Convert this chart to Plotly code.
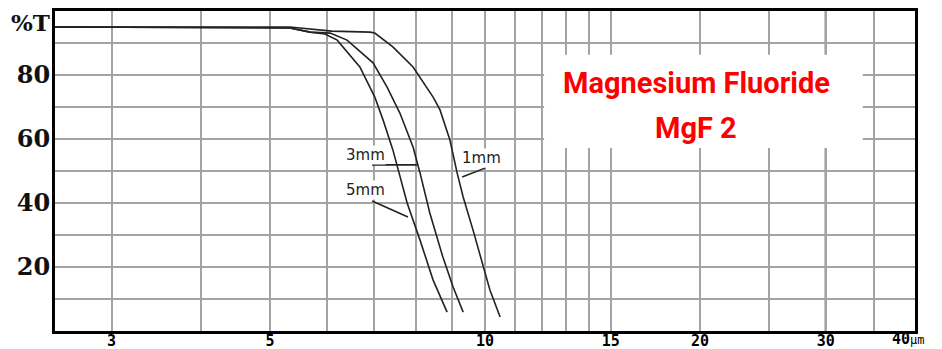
import math
import plotly.graph_objects as go

# ---- data ----
wl_1mm = [2.5, 5.33, 6.1, 6.9, 7.01, 7.43, 7.93, 8.46, 8.65, 8.93, 9.14, 9.32, 9.62, 9.94, 10.16, 10.5]
t_1mm = [95, 95, 93.7, 93.4, 93.1, 88.8, 82.5, 73.1, 69.1, 59.7, 49.4, 41.9, 31.6, 20.0, 12.8, 4.4]

wl_3mm = [2.5, 5.33, 5.69, 6.07, 6.41, 6.97, 7.29, 7.60, 7.93, 8.11, 8.37, 8.73, 9.02, 9.32]
t_3mm = [95, 94.7, 93.4, 93.1, 90.9, 83.8, 76.3, 68.1, 57.5, 49.4, 36.9, 23.1, 13.8, 5.9]

wl_5mm = [2.5, 5.33, 5.69, 5.97, 6.21, 6.68, 7.01, 7.20, 7.43, 7.78, 8.11, 8.46, 8.85]
t_5mm = [95, 94.7, 93.4, 92.8, 90.9, 82.5, 73.1, 65.9, 56.6, 40.0, 28.4, 15.9, 5.9]

grid_x = [3, 4, 6, 7, 8, 9, 11, 12, 13, 14, 15, 25, 35]
major_x = [5, 10, 20, 30]
x_tick_vals = [3, 5, 10, 15, 20, 30]
x_tick_text = ["3", "5", "10", "15", "20", "30"]
y_tick_vals = [20, 40, 60, 80]
y_grid = [10, 20, 30, 40, 50, 60, 70, 80, 90]

title_lines = ["Magnesium Fluoride", "MgF 2"]

# ---- figure ----
fig = go.Figure()
line_style = dict(color="#222222", width=1.6)
for wl, t, name in [(wl_1mm, t_1mm, "1mm"), (wl_3mm, t_3mm, "3mm"), (wl_5mm, t_5mm, "5mm")]:
    fig.add_trace(go.Scatter(x=wl, y=t, mode="lines", line=line_style, name=name,
                             showlegend=False, hoverinfo="skip"))

all_x = sorted(grid_x + major_x)
tickvals = all_x
ticktext = [x_tick_text[x_tick_vals.index(v)] if v in x_tick_vals else "" for v in all_x]

fig.update_xaxes(type="log", range=[math.log10(2.5), math.log10(40)],
                 tickvals=tickvals, ticktext=ticktext, ticks="", automargin=False,
                 showgrid=True, gridcolor="#a3a3a3", gridwidth=2,
                 showline=True, linecolor="black", linewidth=3, mirror=True,
                 tickfont=dict(family="DejaVu Sans Mono", size=15, color="black", weight="bold"),
                 zeroline=False, ticklabelstandoff=-6)
fig.update_yaxes(range=[0, 100], tickvals=y_grid,
                 ticktext=[str(v) if v in y_tick_vals else "" for v in y_grid],
                 ticks="", showgrid=True, gridcolor="#a3a3a3", gridwidth=2, automargin=False,
                 showline=True, linecolor="black", linewidth=3, mirror=True,
                 tickfont=dict(family="DejaVu Serif", size=24, color="#111111", weight="bold"),
                 zeroline=False, ticklabelstandoff=-3)

# dark major vertical gridlines
for v in major_x:
    fig.add_shape(type="line", xref="x", yref="paper", x0=v, x1=v, y0=0, y1=1,
                  line=dict(color="#111111", width=2), layer="between")

# white box behind the title
fig.add_shape(type="rect", xref="x", yref="y", x0=12.1, x1=33.8, y0=57.2, y1=86.3,
              fillcolor="white", line=dict(width=0), layer="between")

title_font = dict(family="Roboto", size=29, color="#ff0000", weight="bold")
fig.add_annotation(x=math.log10(19.75), y=77.5, xref="x", yref="y", text=title_lines[0],
                   showarrow=False, font=title_font)
fig.add_annotation(x=math.log10(19.75), y=63.5, xref="x", yref="y", text=title_lines[1],
                   showarrow=False, font=title_font)

# curve labels with leader lines
lab_font = dict(family="DejaVu Sans", size=15, color="#222222")
for txt, lx, ly in [("3mm", 6.81, 55), ("5mm", 6.81, 44), ("1mm", 9.9, 54)]:
    fig.add_annotation(x=math.log10(lx), y=ly, xref="x", yref="y", text=txt, showarrow=False,
                       font=lab_font, bgcolor="white", borderpad=0)
for x0, y0, x1, y1 in [(6.95, 51.9, 8.03, 51.9), (6.95, 40.6, 7.8, 35.6), (9.29, 48.1, 10.0, 50.9)]:
    fig.add_shape(type="line", xref="x", yref="y", x0=x0, y0=y0, x1=x1, y1=y1,
                  line=dict(color="#222222", width=1.6))

# %T label and 40µm label
fig.add_annotation(x=0, y=96.5, xref="paper", yref="y", xanchor="right", xshift=-3,
                   text="%T", showarrow=False,
                   font=dict(family="DejaVu Serif", size=23, color="#111111", weight="bold"))
fig.add_annotation(x=1, y=0, xref="paper", yref="paper", xanchor="left", yanchor="top",
                   xshift=-25, yshift=3,
                   text="<b>40</b><span style='font-size:12px'>µm</span>", showarrow=False,
                   font=dict(family="DejaVu Sans Mono", size=15, color="black"))

# the page body has an 8px margin, so the figure is sized to fill the rest of the window
fig.update_layout(width=934, height=341, margin=dict(l=47, r=27, t=3, b=18),
                  plot_bgcolor="white", paper_bgcolor="white")

fig.write_html("out.html")
